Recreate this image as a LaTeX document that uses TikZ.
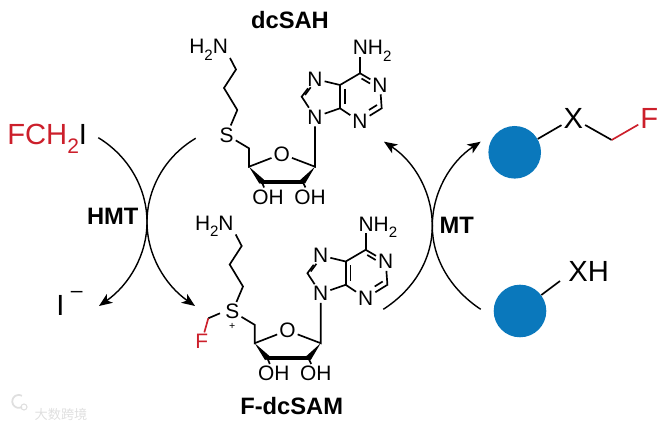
\documentclass[tikz,border=0pt]{standalone}
\usepackage{fontspec}
\usepackage{graphicx}
\setmainfont{Liberation Sans}
\newfontfamily\cjkfont{Noto Sans CJK SC}
\usetikzlibrary{arrows.meta}
\definecolor{spotblue}{HTML}{0A78BC}
\definecolor{fluored}{HTML}{CC1F2B}
\newcommand{\lowtwo}{\raisebox{-0.3em}{\scalebox{0.72}{2}}}
\tikzset{
  bond/.style={line width=0.95pt},
  atom/.style={font=\fontsize{11.9}{12}\selectfont, inner sep=1pt},
  bigatom/.style={font=\fontsize{16.6}{17}\selectfont, inner sep=1pt},
  title/.style={font=\fontsize{13.5}{14}\selectfont\bfseries, inner sep=0pt},
  swing/.style={line width=0.8pt, -{Stealth[length=7.5pt, width=6pt, inset=2pt]}},
  bead/.style={circle, fill=spotblue, minimum size=52.6*0.02cm, inner sep=0pt},
  % the part shared by both cofactors
  adenosyl/.pic={
    \node[atom, anchor=base east] (amine) at (230,54) {H\lowtwo N};
    \coordinate (ca) at (230,58);
    \coordinate (cb) at (236,69.5);
    \coordinate (cc) at (224,88);
    \coordinate (cd) at (237.3,110);
    \node[atom] (S) at (226.7,135) {S};
    \coordinate (ce) at (249,148.3);
    \coordinate (c4) at (249,166.7);
    \node[atom] (O) at (281.7,154) {O};
    \coordinate (c1) at (315,166.7);
    \coordinate (c2) at (302.7,181.7);
    \coordinate (c3) at (261.7,181.7);
    \node[atom] (oa) at (268,197) {OH};
    \node[atom] (ob) at (310,197) {OH};
    \node[atom] (n9) at (315,117) {N};
    \node[atom] (n7) at (315,79) {N};
    \coordinate (c8) at (301.7,96.7);
    \coordinate (c4a) at (340,108.3);
    \coordinate (c5a) at (340,85);
    \coordinate (c6a) at (360,73.3);
    \node[atom] (n1) at (380,85) {N};
    \coordinate (c2a) at (381.7,108.3);
    \node[atom] (n3) at (360,121.7) {N};
    \node[atom, anchor=base west, inner sep=0pt] (nh) at (352.5,55) {NH\lowtwo};
    \coordinate (cn) at (360,57);
    \draw[bond] (ca) -- (cb) -- (cc) -- (cd) -- (S);
    \draw[bond] (S) -- (ce) -- (c4) -- (O) -- (c1) -- (n9);
    \fill (c4) -- (264,179.7) -- (259.4,183.7) -- cycle;
    \fill (c1) -- (305,183.6) -- (300.4,179.8) -- cycle;
    \draw[line width=2.4pt, line cap=round] (c3) -- (c2);
    \draw[bond] (c3) -- (oa);
    \draw[bond] (c2) -- (ob);
    \draw[bond] (n9) -- (c8) -- (n7) -- (c5a) -- (c6a) -- (n1) -- (c2a) -- (n3) -- (c4a) -- (n9);
    \draw[bond] (c4a) -- (c5a);
    \draw[bond] (c6a) -- (cn);
    \draw[bond] (344.7,89) -- (344.7,104.5);
    \draw[bond] (361.5,78.5) -- (370,83.5);
    \draw[bond] (377,105) -- (369,110);
    \draw[bond] (305,95) -- (310.7,87.3);
  }
}
\begin{document}
\begin{tikzpicture}[x=0.02cm, y=-0.02cm]
  \useasboundingbox (0,0) rectangle (666,428);
  \pic at (0,0) {adenosyl};
  \pic (sam) at (5.7,176.5) {adenosyl};
  \node[title] (dcsah) at (290,20) {dcSAH};
  \node[title] (fdcsam) at (291.7,406) {F-dcSAM};
  % fluoromethyl on the sulfonium
  \node[atom, font=\fontsize{6}{6}\selectfont, inner sep=0pt] (plus) at (232.3,326) {+};
  \coordinate (cf) at (208.3,318.3);
  \node[atom, text=fluored] (fa) at (201.7,341.7) {F};
  \draw[bond] (220,313.3) -- (cf);
  \draw[bond, fluored] (cf) -- (fa);
  % left cycle
  \node[bigatom, anchor=base west, inner sep=0pt] (fch) at (7,145) {\textcolor{fluored}{FCH\lowtwo}I};
  \node[bigatom, anchor=base west, inner sep=0pt] (iodide) at (56,316) {I\hspace{0.22em}\raisebox{0.62em}{\fontsize{12}{12}\selectfont –}};
  \node[title] (hmt) at (112.7,216.7) {HMT};
  \coordinate (la) at (98.3,137.7);
  \coordinate (lb) at (195.7,138.3);
  \coordinate (lc) at (147,222);
  \coordinate (ld) at (195,306);
  \coordinate (le) at (99,306);
  \draw[swing] (la) .. controls (130,157) and (147,190) .. (lc) .. controls (147,255) and (165,285) .. (ld);
  \draw[swing] (lb) .. controls (164,157) and (147,190) .. (lc) .. controls (147,255) and (129,285) .. (le);
  % right cycle
  \node[title] (mt) at (456.7,225) {MT};
  \coordinate (ra) at (383.3,309.3);
  \coordinate (rb) at (480.7,309.3);
  \coordinate (rc) at (432.3,226);
  \coordinate (rd) at (480.7,141.7);
  \coordinate (re) at (384,141.7);
  \draw[swing] (ra) .. controls (415,289) and (432.3,258) .. (rc) .. controls (432.3,193) and (450,162) .. (rd);
  \draw[swing] (rb) .. controls (450,289) and (432.3,258) .. (rc) .. controls (432.3,193) and (415,162) .. (re);
  % beads
  \node[bead] (top) at (514.7,152.3) {};
  \node[bead] (low) at (520,311) {};
  \node[bigatom] (xa) at (573.3,118.3) {X};
  \coordinate (cx) at (611.7,140);
  \node[bigatom, text=fluored] (fb) at (649.3,118.3) {F};
  \node[bigatom, anchor=west, inner sep=0pt] (xh) at (568,271.7) {XH};
  \coordinate (xl) at (560,281);
  \draw[bond] (top) -- (xa);
  \draw[bond] (xa) -- (cx);
  \draw[bond, fluored] (cx) -- (fb);
  \draw[bond] (low) -- (xl);
  % watermark
  \draw[gray!25, line width=1pt] (22,407) arc (60:300:6.5);
  \draw[gray!25, line width=0.6pt] (24,407) circle (3);
  \node[text=gray!25, font=\cjkfont\fontsize{7.5}{8}\selectfont, inner sep=0pt] (mark) at (61,414) {大数跨境};
\end{tikzpicture}
\end{document}
